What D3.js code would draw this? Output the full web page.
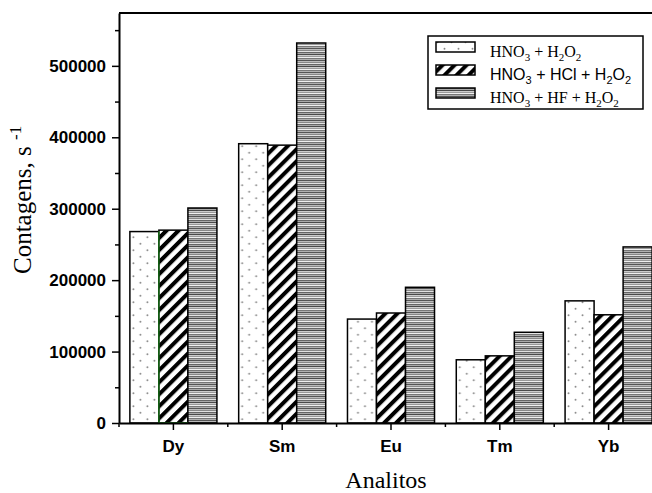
<!DOCTYPE html>
<html>
<head>
<meta charset="utf-8">
<script src="https://cdn.jsdelivr.net/npm/d3@7"></script>
<style>
  html, body { margin: 0; padding: 0; background: #fff; }
  svg { display: block; }
</style>
</head>
<body>
<script>
// ---- data ----
const categories = ["Dy", "Sm", "Eu", "Tm", "Yb"];
const seriesKeys = ["hno3_h2o2", "hno3_hcl_h2o2", "hno3_hf_h2o2"];
const hno3_h2o2 = [268000, 391000, 145500, 88500, 171000];
const hno3_hcl_h2o2 = [270000, 389000, 154000, 94000, 151500];
const hno3_hf_h2o2 = [301000, 532000, 190000, 127000, 246500];
const legendLabels = ["HNO_3 + H_2O_2", "HNO_3 + HCl + H_2O_2", "HNO_3 + HF + H_2O_2"];
const yTickValues = [0, 100000, 200000, 300000, 400000, 500000];
const yMinorTickValues = [50000, 150000, 250000, 350000, 450000, 550000];
const yTitle = "Contagens, s";
const yTitleSup = "-1";
const xTitle = "Analitos";

const seriesValues = [hno3_h2o2, hno3_hcl_h2o2, hno3_hf_h2o2];

// ---- layout ----
const W = 652, H = 493;
const pLeft = 119, pTop = 13, pBottom = 423, pRightExt = 663;
const serif = "'Liberation Serif', 'Times New Roman', serif";
const sans = "'Liberation Sans', Arial, sans-serif";

const svg = d3.select("body").append("svg").attr("width", W).attr("height", H);
const defs = svg.append("defs");

// dotted pattern
const pDots = defs.append("pattern").attr("id", "dots").attr("patternUnits", "userSpaceOnUse")
  .attr("width", 14).attr("height", 13);
pDots.append("rect").attr("width", 14).attr("height", 13).attr("fill", "#fff");
pDots.append("circle").attr("cx", 3.5).attr("cy", 3.25).attr("r", 0.95).attr("fill", "#888");
pDots.append("circle").attr("cx", 10.5).attr("cy", 9.75).attr("r", 0.95).attr("fill", "#888");

// diagonal hatch pattern
const pHatch = defs.append("pattern").attr("id", "hatch").attr("patternUnits", "userSpaceOnUse")
  .attr("width", 8.5).attr("height", 8.5).attr("patternTransform", "rotate(45)");
pHatch.append("rect").attr("width", 8.5).attr("height", 8.5).attr("fill", "#fff");
pHatch.append("rect").attr("width", 4).attr("height", 8.5).attr("fill", "#000");

// horizontal stripes pattern
const stripeGrays = ["#555", "#bbb", "#888", "#e2e2e2", "#666", "#aaa",
                     "#4a4a4a", "#ccc", "#999", "#f0f0f0", "#777", "#b0b0b0"];
const pStr = defs.append("pattern").attr("id", "stripes").attr("patternUnits", "userSpaceOnUse")
  .attr("width", 4).attr("height", stripeGrays.length);
stripeGrays.forEach((c, i) => pStr.append("rect").attr("x", 0).attr("y", i).attr("width", 4).attr("height", 1).attr("fill", c));

const fills = ["url(#dots)", "url(#hatch)", "url(#stripes)"];

// ---- scales ----
const x0 = d3.scaleBand().domain(categories).range([pLeft, pRightExt]).paddingInner(0.2).paddingOuter(0.1);
const x1 = d3.scaleBand().domain(seriesKeys).range([0, x0.bandwidth()]);
const y = d3.scaleLinear().domain([0, 574000]).range([pBottom, pTop]);

// ---- bars ----
const groups = svg.append("g").selectAll("g").data(categories).join("g")
  .attr("transform", d => `translate(${x0(d)},0)`);
groups.selectAll("rect")
  .data((c, ci) => seriesKeys.map((k, si) => ({ k, si, ci, v: seriesValues[si][ci] })))
  .join("rect")
  .attr("x", d => x1(d.k))
  .attr("y", d => y(d.v))
  .attr("width", x1.bandwidth())
  .attr("height", d => y(0) - y(d.v))
  .attr("fill", d => fills[d.si])
  .attr("stroke", "#000")
  .attr("stroke-width", 1.5);

// green edge artifact on Dy hatched bar
{
  const c = categories[0], k = seriesKeys[1];
  const bx = x0(c) + x1(k);
  const by = y(hno3_hcl_h2o2[0]);
  svg.append("path")
    .attr("d", `M${bx},${by + 1}V${y(0)}H${bx + x1.bandwidth()}`)
    .attr("fill", "none").attr("stroke", "#1a7a1a").attr("stroke-width", 1.3);
}

// ---- axes ----
const yAxis = svg.append("g").attr("transform", `translate(${pLeft},0)`)
  .call(d3.axisLeft(y).tickValues(yTickValues).tickSize(7).tickSizeOuter(0).tickFormat(d3.format("d")));
yAxis.select(".domain").attr("stroke-width", 2);
yAxis.selectAll(".tick line").attr("stroke-width", 1.5);
yAxis.selectAll(".tick text").attr("font-family", sans).attr("font-weight", "bold").attr("font-size", 17).attr("fill", "#000").attr("x", -13);

const yMinor = svg.append("g").attr("transform", `translate(${pLeft},0)`)
  .call(d3.axisLeft(y).tickValues(yMinorTickValues).tickSize(4).tickSizeOuter(0).tickFormat(""));
yMinor.select(".domain").remove();
yMinor.selectAll(".tick line").attr("stroke-width", 1.5);

const xAxis = svg.append("g").attr("transform", `translate(0,${pBottom})`)
  .call(d3.axisBottom(x0).tickSize(7).tickSizeOuter(0));
xAxis.select(".domain").attr("stroke-width", 2);
xAxis.selectAll(".tick line").attr("stroke-width", 1.5);
xAxis.selectAll(".tick text").attr("font-family", sans).attr("font-weight", "bold").attr("font-size", 17).attr("fill", "#000").attr("y", 29).attr("dy", 0);

// minor x ticks at band boundaries
const gap = (x0.step() - x0.bandwidth()) / 2;
svg.append("g").selectAll("line").data(categories).join("line")
  .attr("x1", d => x0(d) - gap).attr("x2", d => x0(d) - gap)
  .attr("y1", pBottom).attr("y2", pBottom + 4)
  .attr("stroke", "#000").attr("stroke-width", 1.5);

// top frame line
svg.append("line").attr("x1", pLeft).attr("x2", pRightExt).attr("y1", y.range()[1]).attr("y2", y.range()[1])
  .attr("stroke", "#000").attr("stroke-width", 2);

// ---- titles ----
const yt = svg.append("text")
  .attr("transform", `translate(31,274) rotate(-90)`)
  .attr("text-anchor", "start")
  .attr("font-family", serif).attr("font-size", 25).attr("fill", "#000");
yt.append("tspan").text(yTitle + " ");
yt.append("tspan").attr("font-size", 17).attr("dy", -10).text(yTitleSup);

svg.append("text").attr("x", 386).attr("y", 488).attr("text-anchor", "middle")
  .attr("font-family", serif).attr("font-size", 24).attr("fill", "#000").text(xTitle);

// ---- legend ----
const lg = svg.append("g");
lg.append("rect").attr("x", 428).attr("y", 36).attr("width", 215).attr("height", 73)
  .attr("fill", "#fff").attr("stroke", "#000").attr("stroke-width", 1.5);
const swY = [42, 65, 88];
const txY = [57, 80, 103];
const legFonts = [serif, sans, serif];
legendLabels.forEach((lab, i) => {
  lg.append("rect").attr("x", 436).attr("y", swY[i]).attr("width", 39).attr("height", 10)
    .attr("fill", fills[i]).attr("stroke", "#000").attr("stroke-width", 1.5);
  const t = lg.append("text").attr("x", 490).attr("y", txY[i])
    .attr("font-family", legFonts[i]).attr("font-size", 16).attr("fill", "#000");
  const parts = lab.split(/(_\d)/).filter(s => s.length);
  let sub = false;
  parts.forEach(p => {
    if (p.startsWith("_")) {
      t.append("tspan").attr("font-size", 11).attr("dy", 4).text(p.slice(1));
      sub = true;
    } else {
      t.append("tspan").attr("dy", sub ? -4 : 0).text(p);
      sub = false;
    }
  });
});
</script>
</body>
</html>
